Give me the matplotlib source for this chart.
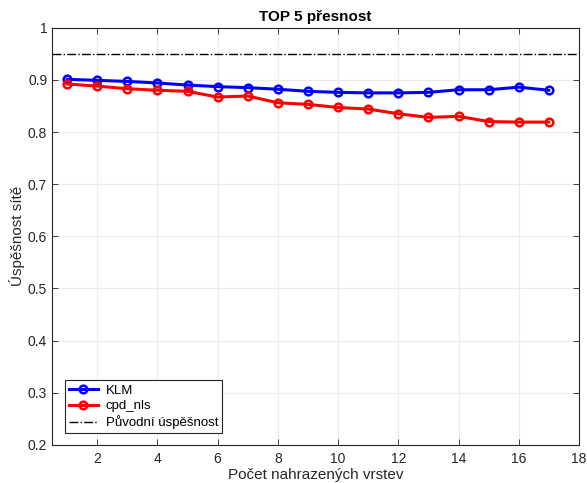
import matplotlib.pyplot as plt
import numpy as np

plt.rcParams['font.family'] = ['Liberation Sans', 'DejaVu Sans']

# pocet nahrazenych vrstev
layers = np.arange(1, 18)

# TOP 5 presnost pro obe metody
klm = [0.901, 0.899, 0.897, 0.894, 0.890, 0.887, 0.885, 0.882, 0.878,
       0.876, 0.875, 0.875, 0.876, 0.881, 0.881, 0.886, 0.880]
cpd_nls = [0.892, 0.888, 0.883, 0.880, 0.878, 0.867, 0.869, 0.856, 0.853,
           0.847, 0.844, 0.835, 0.828, 0.830, 0.820, 0.819, 0.819]
original = 0.95

fig = plt.figure(figsize=(5.87, 4.83), dpi=100)
ax = fig.add_axes([0.0886, 0.0787, 0.8977, 0.864])

ax.plot(layers, klm, '-o', color='blue', lw=2.2, ms=5.5, mew=1.8,
        mfc='none', label='KLM')
ax.plot(layers, cpd_nls, '-o', color='red', lw=2.2, ms=5.5, mew=1.8,
        mfc='none', label='cpd_nls')
ax.axhline(original, color='black', ls='-.', lw=1.0, label='Původní úspěšnost')

ax.set_xlim(0.5, 18)
ax.set_ylim(0.2, 1.0)
ax.set_xticks(np.arange(2, 19, 2))
ax.set_yticks(np.arange(0.2, 1.01, 0.1))
ax.set_yticklabels(['0.2', '0.3', '0.4', '0.5', '0.6', '0.7', '0.8', '0.9', '1'])

ax.grid(True, color='#ebebeb', lw=0.8)
ax.set_axisbelow(True)
for s in ax.spines.values():
    s.set_color('#262626')
    s.set_linewidth(0.8)
ax.tick_params(direction='in', length=4, colors='#262626', labelsize=10,
               top=True, right=True, width=0.6)
ax.tick_params(axis='x', pad=5)

ax.set_title('TOP 5 přesnost', fontsize=11, fontweight='bold', pad=5)
ax.set_xlabel('Počet nahrazených vrstev', fontsize=11, color='#262626', labelpad=1.5)
ax.set_ylabel('Úspěšnost sítě', fontsize=11, color='#262626', labelpad=2)

leg = ax.legend(loc='lower left', bbox_to_anchor=(0.012, 0.012), fontsize=9.5,
                fancybox=False, framealpha=1, edgecolor='#262626',
                handlelength=2.2, borderpad=0.3, labelspacing=0.25,
                handletextpad=0.6)
leg.get_frame().set_linewidth(0.8)

fig.savefig('out.png', dpi=100)
